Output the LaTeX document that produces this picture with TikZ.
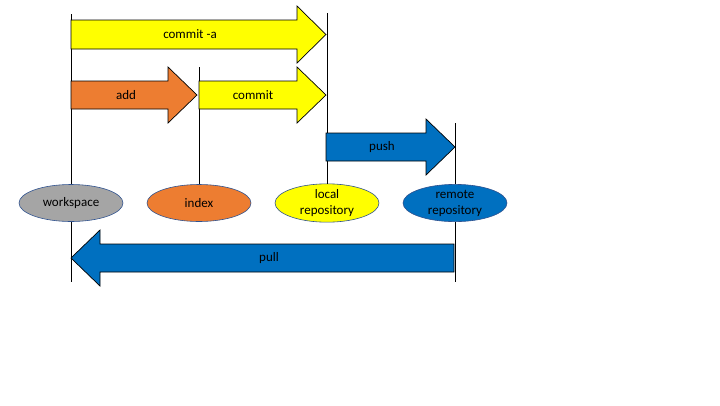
\documentclass[tikz,border=0pt]{standalone}
\usepackage{fontspec}
\setmainfont{Carlito}
\usepackage{tikz}
\usetikzlibrary{shapes.geometric}

\definecolor{gitYellow}{HTML}{FFFF00}
\definecolor{gitOrange}{HTML}{ED7D31}
\definecolor{gitBlue}{HTML}{0070C0}
\definecolor{gitGray}{HTML}{A5A5A5}
\definecolor{gitEdge}{HTML}{2F528F}

\tikzset{
  blockarrow/.style={draw=black, line width=0.7pt},
  area/.style={ellipse, draw=gitEdge, line width=0.6pt, minimum width=104pt,
    minimum height=37pt, inner sep=0pt, align=center, font=\fontsize{13}{16}\selectfont},
  lbl/.style={font=\fontsize{13}{16}\selectfont, inner sep=0pt},
  guide/.style={draw=black, line width=0.7pt}
}

\begin{document}
\begin{tikzpicture}[x=1pt, y=-1pt]
\useasboundingbox (0,0) rectangle (720,405);

% guide lines
\coordinate (wstop) at (71,14);
\coordinate (wsbot) at (71,282);
\coordinate (idxtop) at (199,67);
\coordinate (loctop) at (327,13);
\coordinate (remtop) at (455,123);
\coordinate (rembot) at (455,282);

\node [area, fill=gitGray] (ws) at (71,203) {workspace};
\node [area, fill=gitOrange] (idx) at (199,203) {index};
\node [area, fill=gitYellow] (loc) at (327,203) {local\\repository};
\node [area, fill=gitBlue] (rem) at (455,203) {remote\\repository};

\draw [guide] (wstop) -- (ws);
\draw [guide] (ws) -- (wsbot);
\draw [guide] (idxtop) -- (idx);
\draw [guide] (loctop) -- (loc);
\draw [guide] (remtop) -- (rem);
\draw [guide] (rem) -- (rembot);

% block arrows
\draw [blockarrow, fill=gitYellow] (71,20) -- (297,20) -- (297,6) -- (326,34.5)
  -- (297,63) -- (297,49) -- (71,49) -- cycle;
\node [lbl] (commita) at (190,34.5) {commit -a};

\draw [blockarrow, fill=gitOrange] (71,81) -- (168,81) -- (168,67) -- (197,95)
  -- (168,123) -- (168,109) -- (71,109) -- cycle;
\node [lbl] (add) at (126,95) {add};

\draw [blockarrow, fill=gitYellow] (199,81) -- (297,81) -- (297,67) -- (326,95)
  -- (297,123) -- (297,109) -- (199,109) -- cycle;
\node [lbl] (commit) at (253,95) {commit};

\draw [blockarrow, fill=gitBlue] (326,133) -- (426,133) -- (426,119) -- (455,147)
  -- (426,175) -- (426,161) -- (326,161) -- cycle;
\node [lbl] (push) at (382,147) {push};

\draw [blockarrow, fill=gitBlue] (454,244) -- (100,244) -- (100,230) -- (71,258)
  -- (100,286) -- (100,272) -- (454,272) -- cycle;
\node [lbl] (pull) at (269,258) {pull};
\end{tikzpicture}
\end{document}
